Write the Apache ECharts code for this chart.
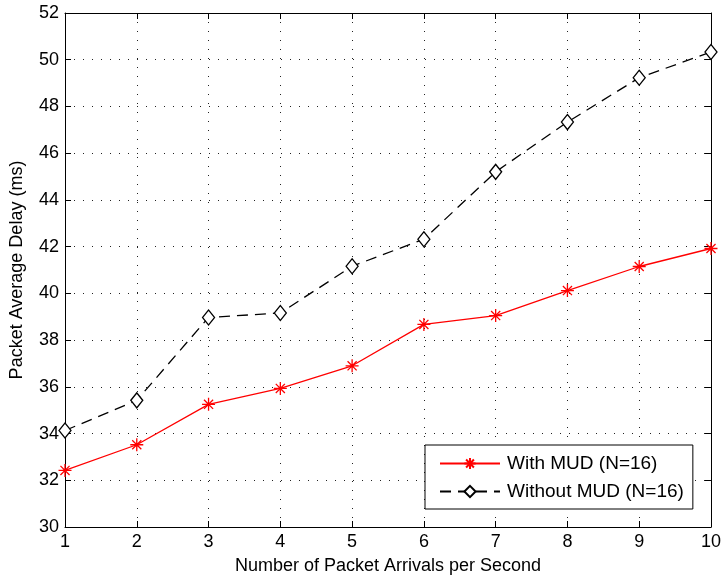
<!DOCTYPE html>
<html>
<head>
<meta charset="utf-8">
<script src="https://cdn.jsdelivr.net/npm/echarts@6/dist/echarts.min.js"></script>
<style>
  html, body { margin: 0; padding: 0; background: #fff; }
  #chart { width: 724px; height: 580px; }
</style>
</head>
<body>
<div id="chart"></div>
<script>
// packet arrivals per second
var arrivals = [1, 2, 3, 4, 5, 6, 7, 8, 9, 10];
// average delay (ms)
var withMud = [32.42, 33.52, 35.25, 35.93, 36.9, 38.67, 39.05, 40.12, 41.15, 41.92];
var withoutMud = [34.13, 35.42, 38.97, 39.16, 41.16, 42.32, 45.2, 47.33, 49.23, 50.33];

var font = '"Liberation Sans", Arial, Helvetica, sans-serif';

// asterisk marker: plus + cross
var starPath = 'path://M0,-10L0,10M-10,0L10,0M-7,-7L7,7M-7,7L7,-7';

function pairs(ys) {
  return arrivals.map(function (x, i) { return [x, ys[i]]; });
}

var chart = echarts.init(document.getElementById('chart'));

var tickStyle = { inside: true, length: 6, lineStyle: { color: '#000', width: 1 } };
var gridLine = { show: true, lineStyle: { color: '#222', width: 1, type: [1, 8] } };

var option = {
  animation: false,
  grid: { left: 63, right: 10, top: 13, bottom: 53, containLabel: false },
  xAxis: [{
    type: 'value', min: 1, max: 10, interval: 1,
    name: 'Number of Packet Arrivals per Second',
    nameLocation: 'middle', nameGap: 30,
    nameTextStyle: { fontFamily: font, fontSize: 18, color: '#000' },
    axisLine: { onZero: false, lineStyle: { color: '#000', width: 1 } },
    axisTick: tickStyle,
    axisLabel: { fontFamily: font, fontSize: 18, color: '#000', margin: 6 },
    splitLine: gridLine
  }, {
    type: 'value', min: 1, max: 10, interval: 1, position: 'top',
    axisLine: { onZero: false, lineStyle: { color: '#000', width: 1 } },
    axisTick: tickStyle,
    axisLabel: { show: false },
    splitLine: { show: false }
  }],
  yAxis: [{
    type: 'value', min: 30, max: 52, interval: 2,
    name: 'Packet Average Delay (ms)',
    nameLocation: 'middle', nameGap: 39,
    nameTextStyle: { fontFamily: font, fontSize: 18, color: '#000' },
    axisLine: { show: true, onZero: false, lineStyle: { color: '#000', width: 1 } },
    axisTick: tickStyle,
    axisLabel: { fontFamily: font, fontSize: 18, color: '#000', margin: 6 },
    splitLine: gridLine
  }, {
    type: 'value', min: 30, max: 52, interval: 2, position: 'right',
    axisLine: { show: true, onZero: false, lineStyle: { color: '#000', width: 1 } },
    axisTick: tickStyle,
    axisLabel: { show: false },
    splitLine: { show: false }
  }],
  legend: {
    left: 425, top: 445,
    orient: 'vertical',
    backgroundColor: '#fff',
    borderColor: '#000', borderWidth: 1, borderRadius: 0,
    padding: [9, 9, 8, 14],
    itemWidth: 60, itemHeight: 14, itemGap: 9,
    textStyle: { fontFamily: font, fontSize: 19, color: '#000', padding: [0, 0, 0, 2] },
    data: ['With MUD (N=16)', 'Without MUD (N=16)']
  },
  series: [{
    name: 'With MUD (N=16)',
    type: 'line',
    data: pairs(withMud),
    symbol: starPath,
    symbolSize: 13,
    lineStyle: { color: '#ff0000', width: 1.3 },
    itemStyle: { color: '#ff0000', borderColor: '#ff0000', borderWidth: 1.3 },
    z: 3
  }, {
    name: 'Without MUD (N=16)',
    type: 'line',
    data: pairs(withoutMud),
    symbol: 'diamond',
    symbolSize: [12, 15],
    lineStyle: { color: '#000', width: 1.3, type: [11, 7] },
    itemStyle: { color: '#fff', borderColor: '#000', borderWidth: 1.3 },
    z: 3
  }]
};

chart.setOption(option);
</script>
</body>
</html>
